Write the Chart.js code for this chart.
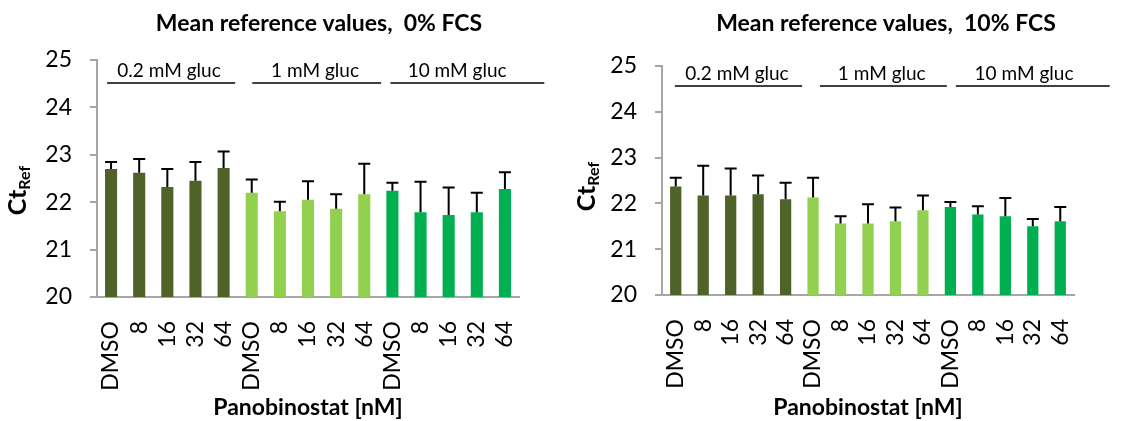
<!DOCTYPE html>
<html>

<head>
  <title>Mean reference values</title>
  <script src="https://cdn.jsdelivr.net/npm/chart.js"></script>
  <style>
    body { margin: 0; background: #fff; }
    .panel { position: absolute; top: 0; height: 421px; }
  </style>
</head>

<body>
  <div class="panel" style="left:0;width:562px"><canvas id="chartFCS0"></canvas></div>
  <div class="panel" style="left:562px;width:567px"><canvas id="chartFCS10"></canvas></div>
  <script>
    // data
    var doses = ['DMSO', '8', '16', '32', '64'];
    var glucGroups = ['0.2 mM gluc', '1 mM gluc', '10 mM gluc'];
    var yTicks = [20, 21, 22, 23, 24, 25];

    var meanFCS0 = [22.70, 22.62, 22.32, 22.45, 22.72, 22.20, 21.81, 22.05, 21.86, 22.17, 22.24, 21.79, 21.73, 21.79, 22.28];
    var sdFCS0 = [0.15, 0.29, 0.38, 0.40, 0.35, 0.28, 0.20, 0.39, 0.31, 0.64, 0.17, 0.64, 0.58, 0.41, 0.35];

    var meanFCS10 = [22.37, 22.17, 22.17, 22.20, 22.09, 22.13, 21.56, 21.56, 21.61, 21.85, 21.92, 21.76, 21.72, 21.50, 21.61];
    var sdFCS10 = [0.19, 0.65, 0.59, 0.41, 0.36, 0.43, 0.16, 0.42, 0.30, 0.32, 0.11, 0.18, 0.40, 0.16, 0.31];

    var groupColors = ['#4F6228', '#92D050', '#00B050'];
    var FONT = 'Lato, "Liberation Sans", sans-serif';

    // build category labels and bar colours from the groups
    var labels = [];
    var barColors = [];
    glucGroups.forEach(function (g, gi) {
      doses.forEach(function (d) {
        labels.push(d);
        barColors.push(groupColors[gi]);
      });
    });

    // error bars (upper side only, like the original)
    var errorBarPlugin = {
      id: 'errorBars',
      afterDatasetsDraw: function (chart, args, opts) {
        var ctx = chart.ctx;
        var yScale = chart.scales.y;
        var meta = chart.getDatasetMeta(0);
        ctx.save();
        ctx.strokeStyle = '#000';
        ctx.lineWidth = 2;
        meta.data.forEach(function (bar, i) {
          var top = yScale.getPixelForValue(opts.means[i] + opts.sds[i]);
          ctx.beginPath();
          ctx.moveTo(bar.x, bar.y);
          ctx.lineTo(bar.x, top);
          ctx.moveTo(bar.x - 6, top);
          ctx.lineTo(bar.x + 6, top);
          ctx.stroke();
        });
        ctx.restore();
      }
    };

    // chart title, group labels with underline, and the Ct_Ref axis title
    var decorPlugin = {
      id: 'decor',
      afterDraw: function (chart, args, opts) {
        var ctx = chart.ctx;
        var area = chart.chartArea;
        var step = (area.right - area.left) / labels.length;
        function catX(v) { return area.left + (v + 0.5) * step; }
        ctx.save();

        // title
        ctx.fillStyle = '#000';
        ctx.font = 'bold 23px ' + FONT;
        ctx.textAlign = 'center';
        ctx.textBaseline = 'middle';
        ctx.fillText(opts.title, opts.titleX, opts.titleY);

        // group labels
        ctx.font = '19px ' + FONT;
        ctx.textBaseline = 'alphabetic';
        ctx.strokeStyle = '#000';
        ctx.lineWidth = 1.5;
        var lineY = area.top + opts.lineOffset;
        glucGroups.forEach(function (g, gi) {
          ctx.fillText(g, catX(opts.textPos[gi]), lineY - 6);
          ctx.beginPath();
          ctx.moveTo(catX(opts.spans[gi][0]), lineY);
          ctx.lineTo(catX(opts.spans[gi][1]), lineY);
          ctx.stroke();
        });

        // y axis title with subscript
        ctx.translate(area.left - opts.yTitleDx, (area.top + area.bottom) / 2 + opts.yTitleDy);
        ctx.rotate(-Math.PI / 2);
        ctx.textAlign = 'left';
        ctx.textBaseline = 'alphabetic';
        ctx.font = 'bold 25px ' + FONT;
        var wCt = ctx.measureText('Ct').width;
        ctx.font = 'bold 16px ' + FONT;
        var wRef = ctx.measureText('Ref').width;
        var start = -(wCt + wRef) / 2;
        ctx.font = 'bold 25px ' + FONT;
        ctx.fillText('Ct', start, 9);
        ctx.font = 'bold 16px ' + FONT;
        ctx.fillText('Ref', start + wCt, 13);
        ctx.restore();
      }
    };

    function makeChart(id, means, sds, o) {
      return new Chart(document.getElementById(id), {
        type: 'bar',
        data: {
          labels: labels,
          datasets: [{
            data: means,
            backgroundColor: barColors,
            borderWidth: 0,
            barPercentage: o.barPct,
            categoryPercentage: 1.0
          }]
        },
        options: {
          responsive: true,
          maintainAspectRatio: false,
          animation: false,
          events: [],
          layout: { padding: { top: o.top, right: o.right, bottom: 0, left: 0 } },
          plugins: {
            legend: { display: false },
            tooltip: { enabled: false },
            errorBars: { means: means, sds: sds },
            decor: o.decor
          },
          scales: {
            x: {
              grid: { display: false, drawTicks: false },
              border: { display: true, color: '#A6A6A6', width: 2 },
              ticks: {
                color: '#000',
                font: { family: FONT, size: 23 },
                minRotation: 90,
                maxRotation: 90,
                padding: 24,
                autoSkip: false
              },
              title: {
                display: true,
                text: 'Panobinostat [nM]',
                color: '#000',
                font: { family: FONT, size: 23, weight: 'bold' },
                padding: { top: 0, bottom: 0 }
              },
              afterFit: function (scale) { scale.height = o.xHeight; }
            },
            y: {
              min: yTicks[0],
              max: yTicks[yTicks.length - 1],
              afterBuildTicks: function (scale) {
                scale.ticks = yTicks.map(function (v) { return { value: v }; });
              },
              grid: { drawOnChartArea: false, drawTicks: true, tickLength: 7, color: '#A6A6A6', lineWidth: 2 },
              border: { display: true, color: '#A6A6A6', width: 2 },
              ticks: {
                color: '#000',
                font: { family: FONT, size: 23 },
                padding: 18
              },
              afterFit: function (scale) { scale.width = o.yWidth; }
            }
          }
        },
        plugins: [errorBarPlugin, decorPlugin]
      });
    }

    makeChart('chartFCS0', meanFCS0, sdFCS0, {
      top: 60, right: 43, xHeight: 124, yWidth: 97, barPct: 0.43,
      decor: {
        title: 'Mean reference values,  0% FCS', titleX: 319, titleY: 24,
        lineOffset: 23,
        textPos: [2.06, 7.25, 12.3],
        spans: [[-0.14, 4.41], [5.02, 9.6], [9.93, 15.4]],
        yTitleDx: 80, yTitleDy: 12
      }
    });

    makeChart('chartFCS10', meanFCS10, sdFCS10, {
      top: 66, right: 55, xHeight: 126, yWidth: 100, barPct: 0.41,
      decor: {
        title: 'Mean reference values,  10% FCS', titleX: 324, titleY: 24,
        lineOffset: 20,
        textPos: [2.23, 7.5, 12.68],
        spans: [[-0.03, 4.6], [5.25, 9.87], [10.2, 15.8]],
        yTitleDx: 76, yTitleDy: 6
      }
    });
  </script>
</body>

</html>
